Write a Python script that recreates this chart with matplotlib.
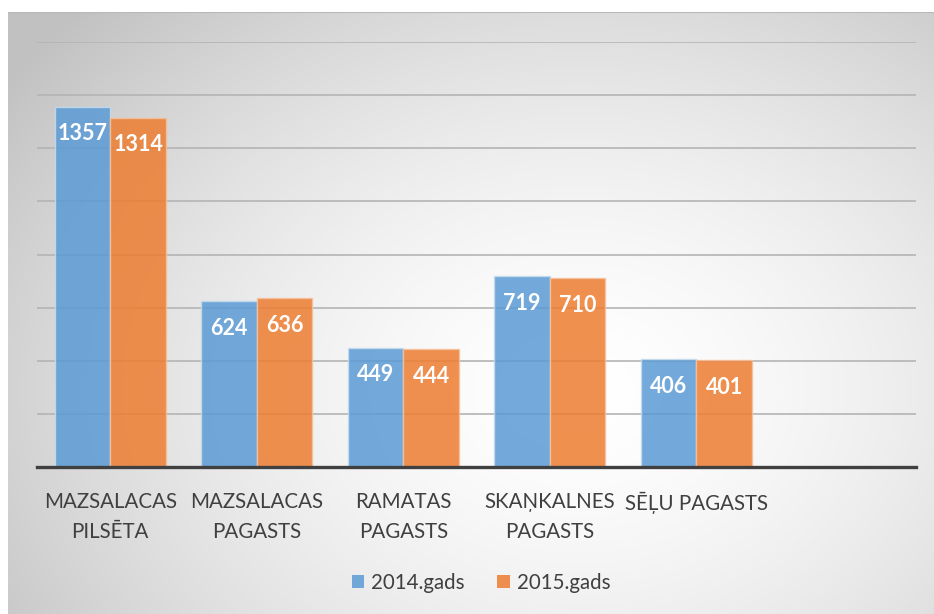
import matplotlib.pyplot as plt
import numpy as np
from matplotlib.patches import Patch

# Dati
categories = ['MAZSALACAS\nPILSĒTA', 'MAZSALACAS\nPAGASTS', 'RAMATAS\nPAGASTS',
              'SKAŅKALNES\nPAGASTS', 'SĒĻU PAGASTS', '']
vals_2014 = [1357, 624, 449, 719, 406]
vals_2015 = [1314, 636, 444, 710, 401]
series_names = ['2014.gads', '2015.gads']

plt.rcParams['font.family'] = ['Lato', 'DejaVu Sans']

W, H = 934, 614
fig = plt.figure(figsize=(W / 100, H / 100), dpi=100)

# Fons ar radiālu gradientu
bg = fig.add_axes([8 / W, 0, 1 - 8 / W, (H - 12) / H])
yy, xx = np.mgrid[12:H, 8:W]
d = np.sqrt(((xx - 580) / 560) ** 2 + ((yy - 390) / 430) ** 2)
g = 1 - 0.24 * np.clip(d, 0, 1.25) ** 1.6 / 1.25 ** 1.6
bg.imshow(np.dstack([g, g, g]), aspect='auto', extent=[0, 1, 0, 1], origin='upper')
bg.plot([0, 1], [1, 1], color='#b8b8b8', lw=1.5)
bg.set_xlim(0, 1)
bg.set_ylim(0, 1)
bg.axis('off')

ax = fig.add_axes([37 / W, (H - 467) / H, (916 - 37) / W, (467 - 42) / H])
ax.patch.set_visible(False)

x = np.arange(len(categories))
w = 0.38
b1 = ax.bar(x[:5] - w / 2, vals_2014, w, color='#5b9bd5', alpha=0.85,
            edgecolor='#c5dcf0', linewidth=1, zorder=3)
b2 = ax.bar(x[:5] + w / 2, vals_2015, w, color='#ed7d31', alpha=0.85,
            edgecolor='#f6c19c', linewidth=1, zorder=3)

for bars in (b1, b2):
    for r in bars:
        ax.annotate(f'{int(r.get_height())}',
                    (r.get_x() + r.get_width() / 2, r.get_height()),
                    xytext=(0, -27), textcoords='offset pixels',
                    ha='center', va='center', color='white',
                    fontsize=15.5, fontweight='bold', zorder=4)

ax.set_xlim(-0.5, len(categories) - 0.5)
ax.set_ylim(0, 1600)
ax.set_yticks(np.arange(200, 1601, 200))
ax.yaxis.grid(True, color='#b4b4b4', lw=1.2, zorder=0)
ax.tick_params(axis='y', length=0, labelleft=False)
ax.set_xticks(x)
ax.set_xticklabels(categories, fontsize=14.8, color='#404040', linespacing=1.6)
ax.tick_params(axis='x', length=0, pad=18)

[s.set_visible(False) for s in ax.spines.values()]
ax.spines['bottom'].set_visible(True)
ax.spines['bottom'].set_color('#404040')
ax.spines['bottom'].set_linewidth(2.4)
ax.spines['bottom'].set_zorder(5)

handles = [Patch(facecolor='#5b9bd5', alpha=0.85), Patch(facecolor='#ed7d31', alpha=0.85)]
fig.legend(handles, series_names, loc='center', bbox_to_anchor=(481 / W, 1 - 583 / H),
           ncol=2, frameon=False, fontsize=14.8, labelcolor='#404040',
           handlelength=0.6, handleheight=0.6, handletextpad=0.35, columnspacing=1.6)

fig.savefig('out.png', dpi=100)
